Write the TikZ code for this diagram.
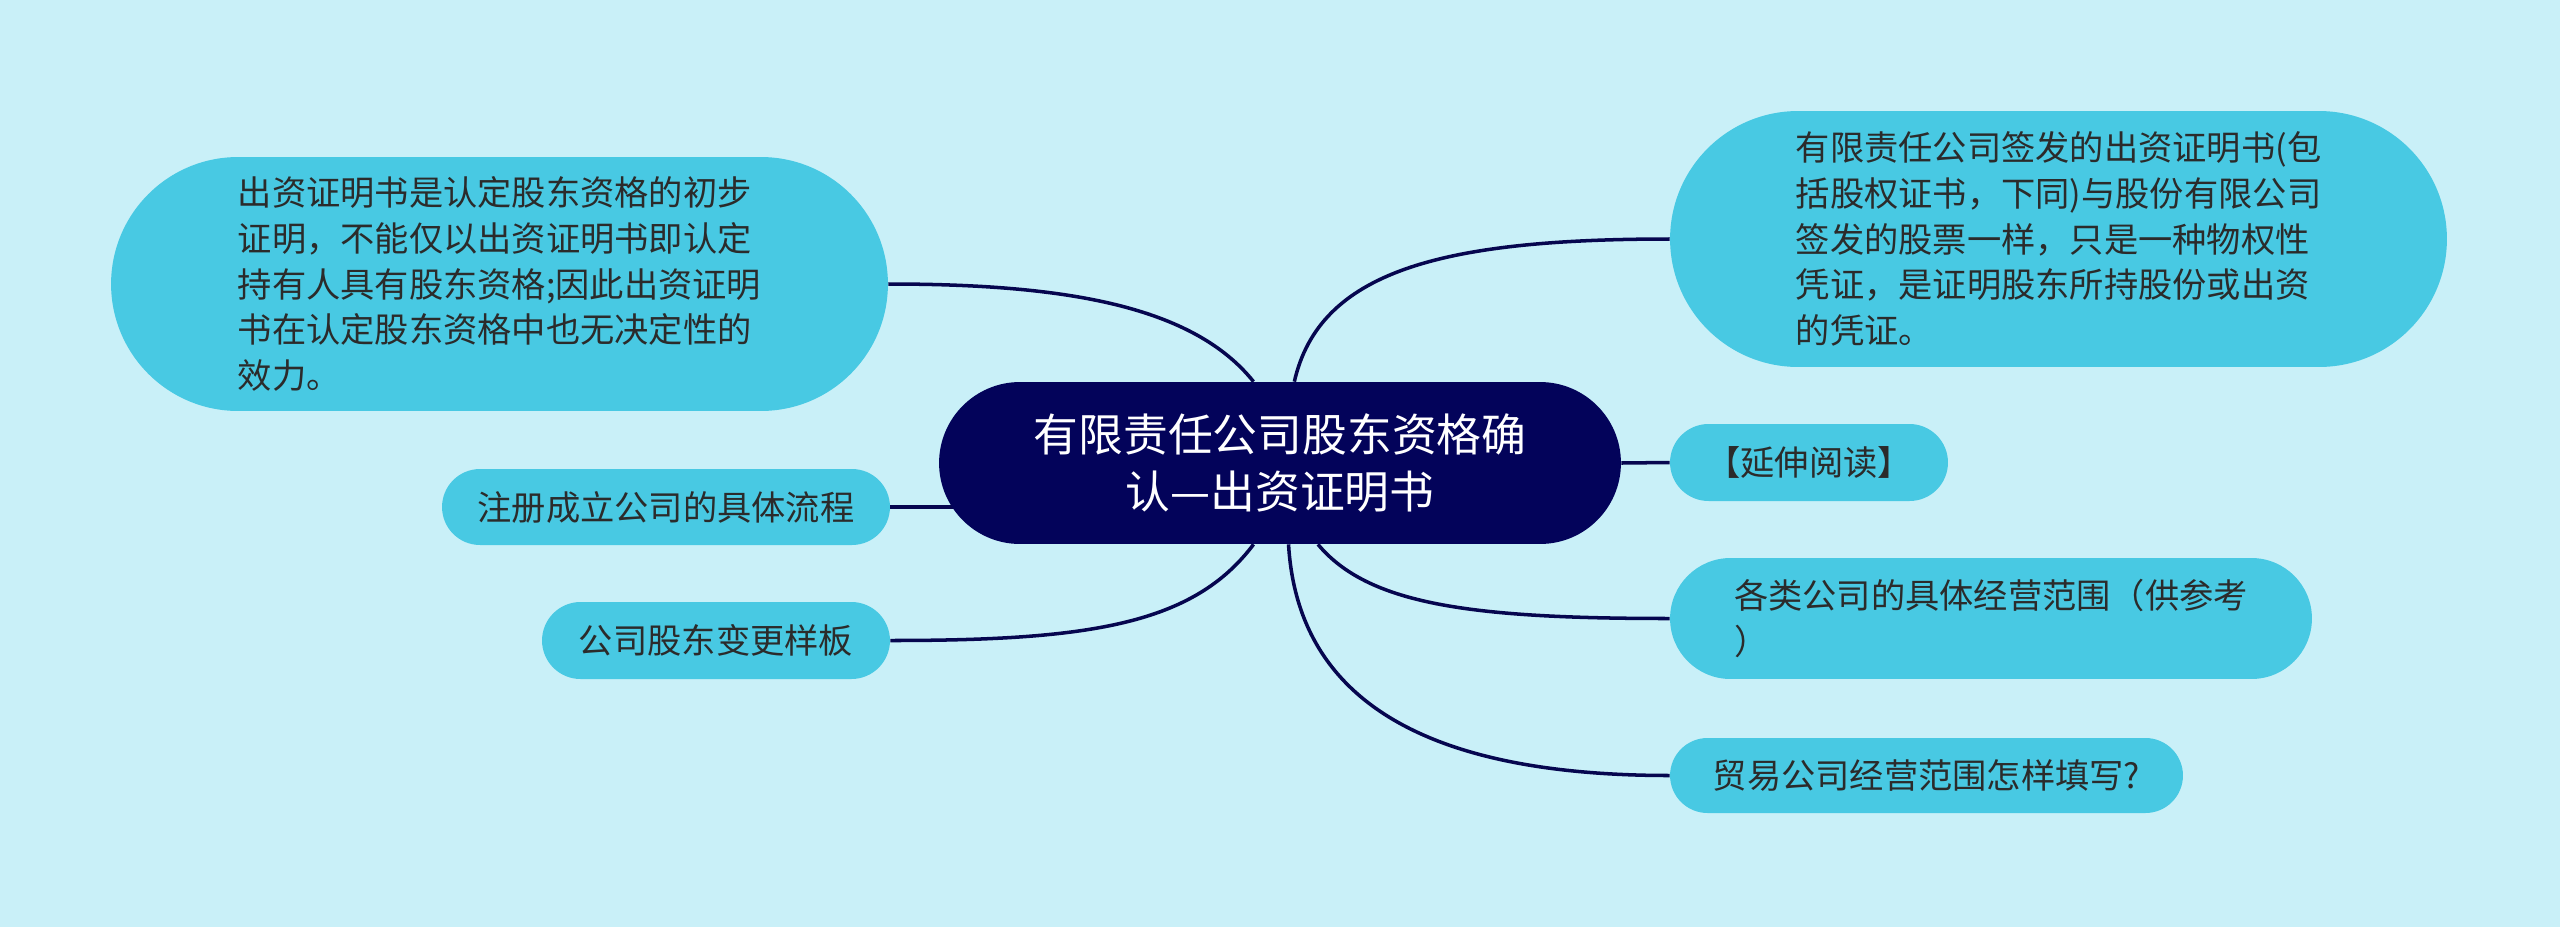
\documentclass[tikz,border=0pt]{standalone}
\usepackage{fontspec}
\setmainfont{Noto Sans CJK SC}
\usepackage{xcolor}
\usepackage{tikz}
\usetikzlibrary{shapes.misc, backgrounds, calc}
\definecolor{canvas}{HTML}{C9F0F8}
\definecolor{leafblue}{HTML}{48C9E3}
\definecolor{rootnavy}{HTML}{03035A}
\definecolor{linknavy}{HTML}{06064F}
\definecolor{leaftext}{HTML}{2B2B2B}

\tikzset{
  root/.style={rounded rectangle, fill=rootnavy, text=white, align=center,
    font=\fontsize{25.5}{32.4}\selectfont, inner sep=0pt},
  leaf/.style={rounded rectangle, fill=leafblue, text=leaftext, align=left,
    font=\fontsize{19.5}{26}\selectfont, inner sep=0pt},
  link/.style={draw=linknavy, line width=2pt}
}

\begin{document}
\begin{tikzpicture}[x=0.02cm, y=-0.02cm]
        \useasboundingbox (0,0) rectangle (2560,927);
        % centre
        \node[root, minimum width=13.64cm, minimum height=3.24cm] (cn) at (1280,463)
          {有限责任公司股东资格确\\认—出资证明书};
        % left side
        \node[leaf, minimum width=15.54cm, minimum height=5.08cm] (tl) at (499.5,284)
          {出资证明书是认定股东资格的初步\\证明，不能仅以出资证明书即认定\\持有人具有股东资格;因此出资证明\\书在认定股东资格中也无决定性的\\效力。};
        \node[leaf, minimum width=8.96cm, minimum height=1.52cm] (zh) at (666,507)
          {注册成立公司的具体流程};
        \node[leaf, minimum width=6.96cm, minimum height=1.54cm] (gd) at (716,640.5)
          {公司股东变更样板};
        % right side
        \node[leaf, minimum width=15.54cm, minimum height=5.12cm] (tr) at (2058.5,239)
          {有限责任公司签发的出资证明书(包\\括股权证书，下同)与股份有限公司\\签发的股票一样，只是一种物权性\\凭证，是证明股东所持股份或出资\\的凭证。};
        \node[leaf, minimum width=5.56cm, minimum height=1.54cm] (ys) at (1809,462.5)
          {【延伸阅读】};
        \node[leaf, minimum width=12.84cm, minimum height=2.42cm] (gl) at (1991,618.5)
          {各类公司的具体经营范围（供参考\\）};
        \node[leaf, minimum width=10.26cm, minimum height=1.5cm] (my) at (1926.5,775.5)
          {贸易公司经营范围怎样填写?};
        % links
        \begin{scope}[on background layer]
          \fill[canvas] (0,0) rectangle (2560,927);
          \draw[link] (tl.east) .. controls +(180,0) and +(-60,-75) .. (cn.108);
          \draw[link] (zh.east) -- (zh.east -| cn.center);
          \draw[link] (gd.east) .. controls +(200,0) and +(-60,80) .. (cn.-108);
          \draw[link] (cn.80) .. controls +(25,-110) and +(-230,0) .. (tr.west);
          \draw[link] (cn.east) -- (ys.west);
          \draw[link] (cn.-65) .. controls +(50,60) and +(-200,0) .. (gl.west);
          \draw[link] (cn.-84) .. controls +(10,170) and +(-220,0) .. (my.west);
        \end{scope}
    \end{tikzpicture}
\end{document}
